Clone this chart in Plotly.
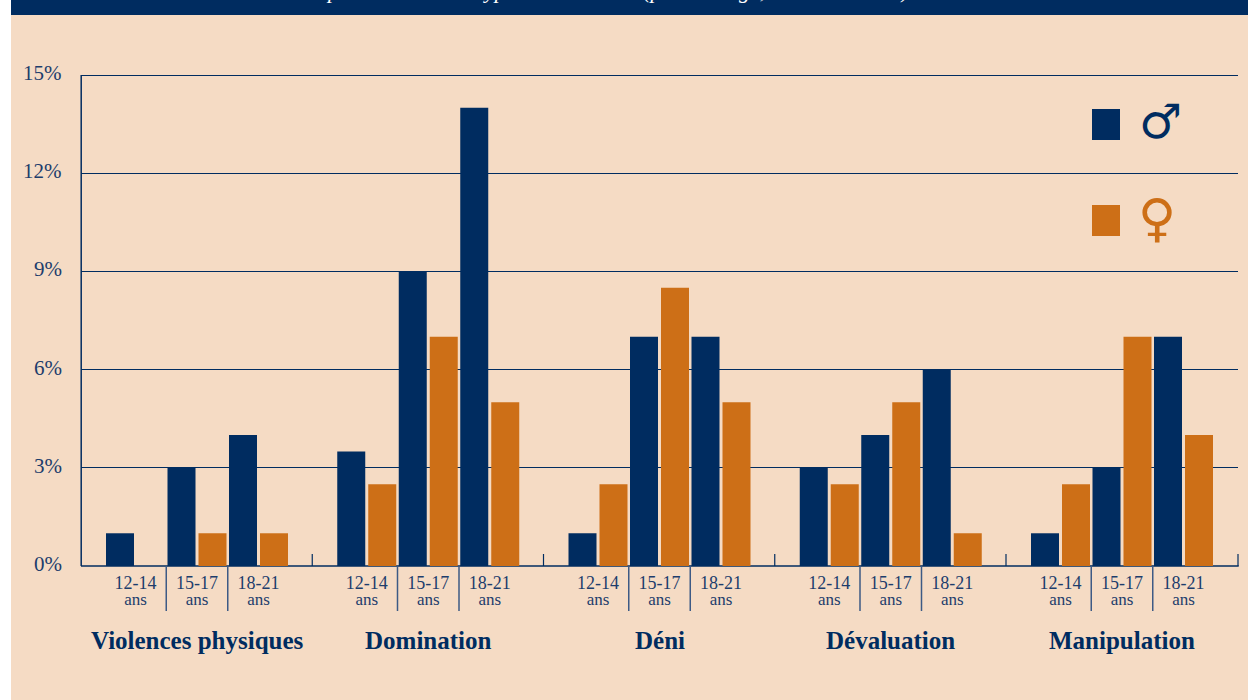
import numpy as np
import plotly.graph_objects as go

groups = ["Violences physiques", "Domination", "Déni", "Dévaluation", "Manipulation"]
ages = ["12-14", "15-17", "18-21"]
male = [1, 3, 4, 3.5, 9, 14, 1, 7, 7, 3, 4, 6, 1, 3, 7]
female = [None, 1, 1, 2.5, 7, 5, 2.5, 8.5, 5, 2.5, 5, 1, 2.5, 7, 4]
y_ticks = [0, 3, 6, 9, 12, 15]
y_labels = ["0%", "3%", "6%", "9%", "12%", "15%"]

NAVY = "#002c60"
ORANGE = "#cd6f17"
PEACH = "#f5dbc4"
INK = "#1d3d6c"
SERIF = "Liberation Serif, serif"

L, R, T, B = 81, 10, 75, 134
W, H = 1248, 700
PW, PH = W - L - R, H - T - B
PITCH = 61.5          # px per age slot
GROUP_STEP = 231.25 / PITCH
EDGE = 54.5 / PITCH

xs = np.array([g * GROUP_STEP + a for g in range(len(groups)) for a in range(len(ages))])
centers = [g * GROUP_STEP + 1 for g in range(len(groups))]

def px(v):
    return v / PITCH

def paper_x(p):
    return (p - L) / PW

def paper_y(p):
    return 1 - (p - T) / PH

fig = go.Figure()
fig.add_bar(x=xs, y=male, name="♂", marker=dict(color=NAVY, line_width=0),
            width=px(28), offset=px(-29.5))
fig.add_bar(x=xs, y=female, name="♀", marker=dict(color=ORANGE, line_width=0),
            width=px(28), offset=px(1.5))

def pline(x0, y0, x1, y1, color=NAVY, width=1.2, layer="below"):
    return dict(type="line", xref="paper", yref="paper", x0=paper_x(x0), x1=paper_x(x1),
                y0=paper_y(y0), y1=paper_y(y1), line=dict(color=color, width=width), layer=layer)

shapes = [
    dict(type="rect", xref="paper", yref="paper", x0=paper_x(0), x1=paper_x(11),
         y0=paper_y(0), y1=paper_y(H), fillcolor="white", line_width=0, layer="below"),
    dict(type="rect", xref="paper", yref="paper", x0=paper_x(11), x1=paper_x(W),
         y0=paper_y(0), y1=paper_y(15), fillcolor=NAVY, line_width=0, layer="below"),
    dict(type="rect", xref="paper", yref="paper", x0=paper_x(1092), x1=paper_x(1120),
         y0=paper_y(109), y1=paper_y(140), fillcolor=NAVY, line_width=0),
    dict(type="rect", xref="paper", yref="paper", x0=paper_x(1092), x1=paper_x(1120),
         y0=paper_y(205), y1=paper_y(236), fillcolor=ORANGE, line_width=0),
    pline(81.2, 75, 81.2, 566, width=1.5),      # left axis
    pline(81, 565.9, 1238.7, 565.9, width=1.5), # bottom axis
    pline(81, 75.5, 1238, 75.5, width=1),       # top gridline
]
# separators between age groups, below the axis
for g in range(len(groups)):
    for k in (0.5, 1.5):
        xv = g * GROUP_STEP + k
        shapes.append(dict(type="line", xref="x", yref="paper", x0=xv, x1=xv,
                           y0=paper_y(566), y1=paper_y(611),
                           line=dict(color="#3d5a85", width=1.5)))
# short ticks above the axis, between categories
for g in range(1, len(groups)):
    xv = g * GROUP_STEP - EDGE
    shapes.append(dict(type="line", xref="x", yref="paper", x0=xv, x1=xv,
                       y0=paper_y(566), y1=paper_y(554), line=dict(color=NAVY, width=1.2)))
shapes.append(pline(1238, 566, 1238, 554))

annotations = [
    dict(text=f"<b>{name}</b>", x=c, xref="x", y=paper_y(640), yref="paper", showarrow=False,
         xanchor="center", yanchor="middle", font=dict(family=SERIF, size=25, color=NAVY))
    for name, c in zip(groups, centers)
]
annotations += [
    dict(text=lab, x=paper_x(63.5), xref="paper", y=v, yref="y", yshift=2, showarrow=False,
         xanchor="right", yanchor="middle", font=dict(family=SERIF, size=21, color=INK))
    for v, lab in zip(y_ticks, y_labels)
]
annotations += [
    dict(text="<b>♂</b>", x=paper_x(1160), y=paper_y(121), xref="paper", yref="paper", showarrow=False,
         xanchor="center", yanchor="middle",
         font=dict(family="DejaVu Sans", size=48, color=NAVY)),
    dict(text="<b>♀</b>", x=paper_x(1157), y=paper_y(218), xref="paper", yref="paper", showarrow=False,
         xanchor="center", yanchor="middle",
         font=dict(family="DejaVu Sans", size=52, color=ORANGE)),
    dict(text="<i>pour chacun des types de violences (pourcentage, selon leur sexe)</i>",
         x=paper_x(324), y=paper_y(5.5), xref="paper", yref="paper", showarrow=False,
         xanchor="left", yanchor="bottom", font=dict(family=SERIF, size=22, color="white")),
]

fig.update_layout(
    width=W, height=H, autosize=False,
    margin=dict(l=L, r=R, t=T, b=B, pad=0),
    paper_bgcolor=PEACH, plot_bgcolor="rgba(0,0,0,0)",
    showlegend=False, barmode="overlay",
    shapes=shapes, annotations=annotations,
    xaxis=dict(
        range=[-EDGE, 4 * GROUP_STEP + 2 + EDGE],
        tickmode="array", tickvals=list(xs),
        ticktext=[f"<span style='font-size:18px'>{ages[i % 3]}</span><br>"
                  f"<span style='font-size:17px'>ans</span>" for i in range(len(xs))],
        tickfont=dict(family=SERIF, size=12, color=INK),
        ticks="outside", ticklen=8, tickcolor="rgba(0,0,0,0)",
        showgrid=False, zeroline=False, showline=False,
        layer="below traces", tickangle=0,
    ),
    yaxis=dict(
        range=[0, 15], tickmode="array", tickvals=y_ticks, showticklabels=False,
        ticks="", showgrid=True, gridcolor=NAVY, gridwidth=1, zeroline=False,
        showline=False, layer="below traces",
    ),
)

fig.write_html("out.html", config={"displayModeBar": False},
               post_script="document.body.style.margin='0';document.body.style.overflow='hidden';")
